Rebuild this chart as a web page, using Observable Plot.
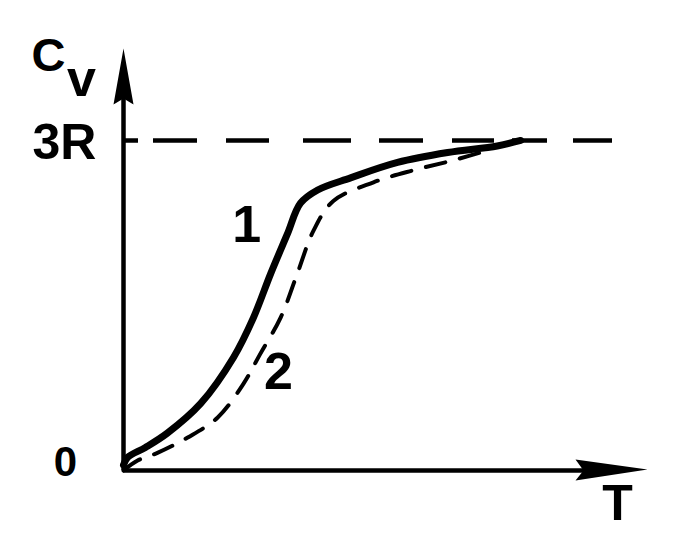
<!DOCTYPE html>
<html><head><meta charset="utf-8">
<script src="https://cdn.jsdelivr.net/npm/d3@7"></script>
<script src="https://cdn.jsdelivr.net/npm/@observablehq/plot@0.6"></script>
<style>body{margin:0;background:#fff}</style>
</head><body><div id="chart"></div>
<script>
// Curve 1 (solid) and curve 2 (dashed): T vs Cv (3R = 3)
const solidT  = [0, 0.08, 0.42, 0.84, 1.48, 2.11, 2.49, 2.82, 3.14, 3.39, 3.72, 4.35, 5.25, 6.21, 7.16, 7.61];
const solidCv = [0.05, 0.12, 0.21, 0.34, 0.61, 1.03, 1.39, 1.79, 2.15, 2.43, 2.55, 2.66, 2.80, 2.89, 2.95, 3.0];
const dashT   = [0, 0.27, 0.65, 1.23, 1.80, 2.30, 2.62, 3.01, 3.33, 3.64, 4.02, 4.79, 5.56, 6.32, 7.05];
const dashCv  = [0, 0.09, 0.16, 0.30, 0.48, 0.79, 1.06, 1.39, 1.79, 2.18, 2.45, 2.62, 2.73, 2.82, 2.92];
const yTicks = [0, 3];
const yTickLabels = ["0", "3R"];
const curveLabels = ["1", "2"];
const curveLabelT = [2.36, 2.97];
const curveLabelCv = [2.23, 0.89];
const yLabel = "C", ySub = "v", xLabel = "T";
const xMax = 10, yMax = 3.836, limitEnd = 9.37;

const solid = solidT.map((T, i) => ({T, Cv: solidCv[i]}));
const dashed = dashT.map((T, i) => ({T, Cv: dashCv[i]}));
const labels = curveLabels.map((t, i) => ({t, T: curveLabelT[i], Cv: curveLabelCv[i]}));

const upHead = {draw(c) { c.moveTo(0, 0); c.lineTo(10, 56); c.lineTo(0, 50); c.lineTo(-10, 56); c.closePath(); }};
const rightHead = {draw(c) { c.moveTo(2, -1); c.lineTo(-70, -11); c.lineTo(-62, 0); c.lineTo(-70, 10); c.closePath(); }};

const font = "Liberation Sans, Arial, sans-serif";
const chart = Plot.plot({
  width: 688, height: 544,
  marginLeft: 123, marginRight: 43, marginTop: 48, marginBottom: 74,
  x: {domain: [0, xMax], axis: null},
  y: {domain: [0, yMax], axis: null},
  style: {fontFamily: font, background: "#fff", color: "#000"},
  marks: [
    Plot.ruleY([yTicks[1]], {x1: 0, x2: limitEnd, stroke: "#000", strokeWidth: 4.5,
      strokeDasharray: "15,15,44,29,43,34,48,28,44,29,42,18,35,26,39,100"}),
    Plot.ruleX([0], {y1: 0, y2: yMax - 0.3, stroke: "#000", strokeWidth: 4.5}),
    Plot.ruleY([0], {x1: 0, x2: xMax - 0.8, stroke: "#000", strokeWidth: 4.5}),
    Plot.dot([0], {x: 0, y: yMax, symbol: upHead, fill: "#000", stroke: null}),
    Plot.dot([0], {x: xMax, y: 0, symbol: rightHead, fill: "#000", stroke: null}),
    Plot.line(dashed, {x: "T", y: "Cv", curve: "catmull-rom", stroke: "#000", strokeWidth: 4, strokeDasharray: "20,15"}),
    Plot.line(solid, {x: "T", y: "Cv", curve: "catmull-rom", stroke: "#000", strokeWidth: 7, strokeLinecap: "round"}),
    Plot.text(labels, {x: "T", y: "Cv", text: "t", fontSize: 52, fontWeight: "bold", lineAnchor: "middle"}),
    Plot.text([yTickLabels[0]], {x: 0, y: yTicks[0], text: d => d, dx: -58, dy: -8, textAnchor: "middle", lineAnchor: "middle", fontSize: 42, fontWeight: "bold"}),
    Plot.text([yTickLabels[1]], {x: 0, y: yTicks[1], text: d => d, dx: -59, dy: 3, textAnchor: "middle", lineAnchor: "middle", fontSize: 50, fontWeight: "bold"}),
    Plot.text([yLabel], {frameAnchor: "top-left", text: d => d, dx: -75, dy: 7, textAnchor: "middle", lineAnchor: "middle", fontSize: 47, fontWeight: "bold"}),
    Plot.text([ySub], {frameAnchor: "top-left", text: d => d, dx: -42, dy: 31, textAnchor: "middle", lineAnchor: "middle", fontSize: 52, fontWeight: "bold"}),
    Plot.text([xLabel], {frameAnchor: "bottom-right", text: d => d, dx: -28, dy: 33, textAnchor: "middle", lineAnchor: "middle", fontSize: 50, fontWeight: "bold"})
  ]
});
document.getElementById("chart").append(chart);
</script>
</body></html>
